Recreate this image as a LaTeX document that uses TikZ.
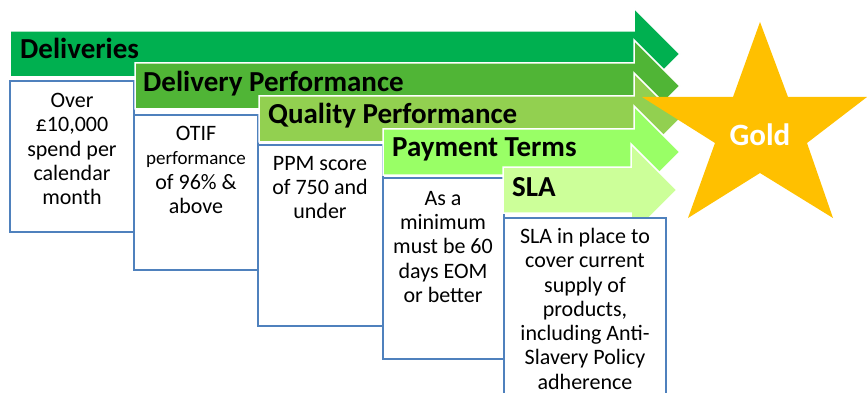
\documentclass[tikz,border=0pt]{standalone}
\usepackage{fontspec}
\setmainfont{Carlito}
\definecolor{cA}{HTML}{00B050}
\definecolor{cB}{HTML}{50B536}
\definecolor{cC}{HTML}{92D050}
\definecolor{cD}{HTML}{99FF66}
\definecolor{cE}{HTML}{CCFF99}
\definecolor{goldstar}{HTML}{FFC000}
\definecolor{boxblue}{HTML}{4F81BD}
\begin{document}
\begin{tikzpicture}[x=1pt,y=-1pt,
  arrowshape/.style={draw=white,line width=1.5pt,line join=miter},
  title/.style={anchor=base west,inner sep=0pt,font=\fontsize{29}{32}\selectfont\bfseries},
  infobox/.style={draw=boxblue,line width=1.8pt,fill=white},
  infotext/.style={anchor=north,inner sep=0pt,align=center,font=\fontsize{22}{24.3}\selectfont},
  goldtext/.style={anchor=base,inner sep=0pt,text=white,font=\fontsize{31}{34}\selectfont\bfseries}]
\useasboundingbox (0,0) rectangle (867,393);
% arrow 1
\filldraw[arrowshape,fill=cA] (10,31) -- (634,31) -- (634,8) -- (680,54) -- (634,100) -- (634,77) -- (10,77) -- cycle;
\node[title] (t1) at (20,59) {Deliveries};
\draw[infobox] (10,81) rectangle (134,232);
\node[infotext] (b1) at (72,93) {Over\\£10,000\\spend per\\calendar\\month};
% arrow 2
\filldraw[arrowshape,fill=cB] (135,63) -- (634,63) -- (634,40) -- (680,86) -- (634,132) -- (634,109) -- (135,109) -- cycle;
\node[title] (t2) at (143,92) {Delivery Performance};
\draw[infobox] (134,115) rectangle (258,270);
\node[infotext] (b2) at (196,126) {OTIF\\{\fontsize{19}{24}\selectfont performance}\\of 96\% \&\\above};
% arrow 3
\filldraw[arrowshape,fill=cC] (259,96) -- (634,96) -- (634,73) -- (680,119) -- (634,165) -- (634,142) -- (259,142) -- cycle;
\node[title] (t3) at (268,124) {Quality Performance};
\draw[infobox] (258,145) rectangle (383,326);
\node[infotext] (b3) at (320,156) {PPM score\\of 750 and\\under};
% arrow 4
\filldraw[arrowshape,fill=cD] (383,129) -- (634,129) -- (634,106) -- (680,152) -- (634,198) -- (634,175) -- (383,175) -- cycle;
\node[title] (t4) at (392,157) {Payment Terms};
\draw[infobox] (383,178) rectangle (504,359);
\node[infotext] (b4) at (443,191) {As a\\minimum\\must be 60\\days EOM\\or better};
% arrow 5
\filldraw[arrowshape,fill=cE] (503,167) -- (631,167) -- (631,144) -- (677,190) -- (631,236) -- (631,213) -- (503,213) -- cycle;
\node[title] (t5) at (512,196) {SLA};
\draw[infobox] (504,218) rectangle (666,398);
\node[infotext] (b5) at (585,228) {SLA in place to\\cover current\\supply of\\products,\\including Anti-\\Slavery Policy\\adherence};
% star
\fill[goldstar] (760,22) -- (788,97) -- (867,97) -- (807,143) -- (833,218) -- (760,173) -- (688,218) -- (715,143) -- (642,97) -- (733,97) -- cycle;
\node[goldtext] (gold) at (760,146) {Gold};
\end{tikzpicture}
\end{document}
